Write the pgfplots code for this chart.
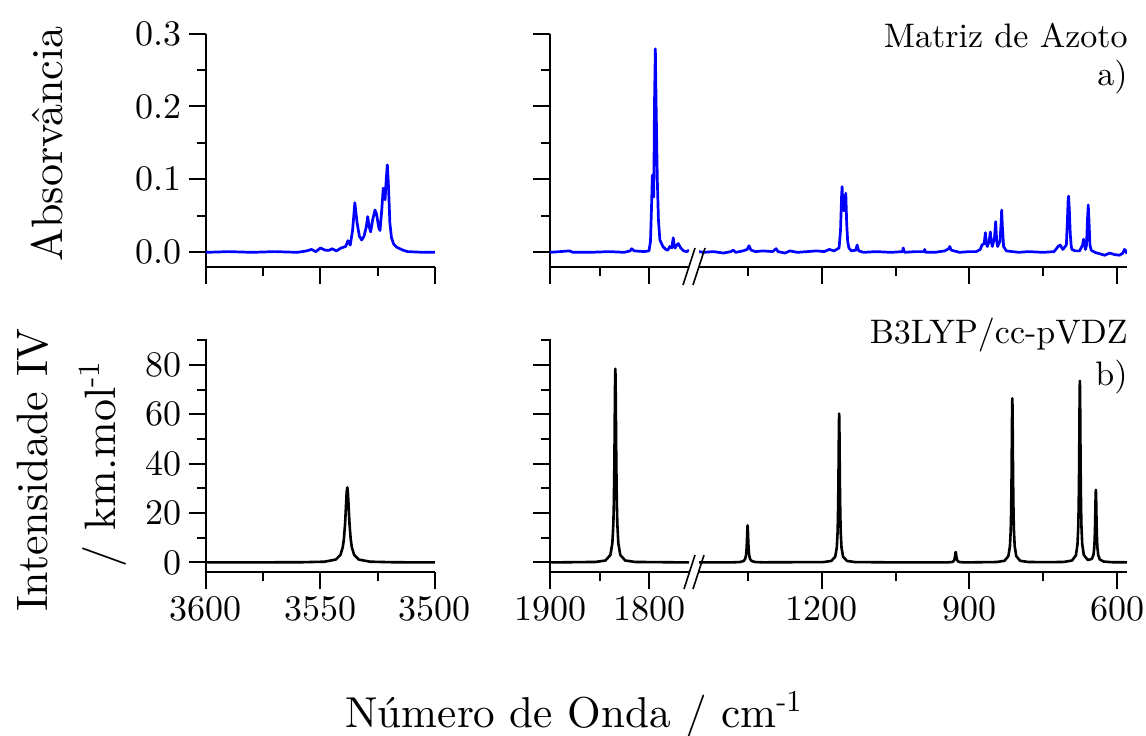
\documentclass[border=0pt]{standalone}
\usepackage{fontspec}
\setmainfont{lmroman10-regular.otf}
\usepackage{pgfplots}
\pgfplotsset{compat=1.18}

\pgfplotsset{
  spec/.style={
    scale only axis, height=116.6pt, anchor=south west,
    x dir=reverse,
    axis x line*=bottom, axis y line*=left,
    axis line style={-, line width=1pt},
    every outer x axis line/.append style={-},
    every outer y axis line/.append style={-},
    every tick/.style={black, line width=1pt},
    tick align=outside,
    major tick length=8.5pt, minor tick length=4.5pt,
    tick label style={font=\fontsize{18}{20}\selectfont},
    /pgf/number format/assume math mode=true,
    /pgf/number format/set thousands separator={},
    scaled ticks=false,
  },
  top/.style={spec, ymin=-0.0197, ymax=0.3,
    ytick={0,0.1,0.2,0.3}, minor ytick={0.05,0.15,0.25},
    xticklabels={},
    yticklabel style={/pgf/number format/.cd, fixed, fixed zerofill, precision=1}},
  bot/.style={spec, ymin=-4.0, ymax=90.5,
    ytick={0,20,40,60,80}, minor ytick={10,30,50,70,90}},
  exp/.style={blue, line width=1.35pt, line join=round},
  calc/.style={black, line width=1.3pt, line join=round},
}

\begin{document}
\begin{tikzpicture}
\path[use as bounding box] (0,0) rectangle (573pt,-367.5pt);

% ---------- a) experimental, N2 matrix ----------
\begin{axis}[top, at={(103pt,-133.35pt)}, width=114.5pt,
  xmin=3500, xmax=3600, xtick={3600,3550,3500}, minor xtick={3575,3525}]
\addplot[exp] coordinates {
(3600,0.000) (3590,0.001) (3580,0.000) (3570,0.001) (3560,0.000) (3556,0.002)
(3554,0.004) (3552,0.001) (3550,0.006) (3548,0.003) (3546,0.003) (3545,0.005)
(3543,0.002) (3541,0.006) (3539,0.008) (3538,0.016) (3537,0.010) (3536,0.030)
(3535,0.068) (3534,0.040) (3533,0.022) (3532,0.017) (3531,0.022) (3530,0.035)
(3529.4,0.049) (3528.8,0.036) (3528.1,0.028) (3527.2,0.045) (3526.2,0.058)
(3525.5,0.052) (3524.5,0.033) (3524,0.030) (3523.2,0.060) (3522.6,0.088)
(3521.8,0.072) (3521.3,0.100) (3520.8,0.120) (3520.3,0.090) (3519.7,0.040)
(3519,0.020) (3518,0.011) (3516.7,0.007) (3514,0.003) (3512,0.001)
(3505,0.000) (3500,0.000)
};
\end{axis}

\begin{axis}[top, at={(275pt,-133.35pt)}, width=69.5pt,
  xmin=1759.6, xmax=1900, xtick={1900,1800}, minor xtick={1850}, yticklabels={}]
\addplot[exp] coordinates {
(1900,0.000) (1890,0.001) (1880,0.002) (1877,0.000) (1860,0.000) (1840,0.001)
(1825,0.000) (1819,0.002) (1817.5,0.005) (1815,0.002) (1805,0.001) (1800,0.002)
(1798.5,0.015) (1797.5,0.060) (1796.6,0.106) (1795.2,0.076) (1794.5,0.200)
(1793.6,0.279) (1792.8,0.200) (1791.6,0.099) (1790.5,0.045) (1789,0.017)
(1786,0.008) (1783,0.004) (1781,0.003) (1779,0.008) (1777,0.006) (1775.5,0.020)
(1774.5,0.008) (1773.5,0.006) (1772,0.010) (1770.4,0.012) (1768,0.006)
(1765,0.002) (1762,0.001) (1759.6,0.003)
};
\end{axis}

\begin{axis}[top, at={(349.5pt,-133.35pt)}, width=214pt, axis y line=none,
  xmin=579.7, xmax=1449.7, xtick={1200,900,600}, minor xtick={1350,1050,750}]
\addplot[exp] coordinates {
(1449.7,0.001) (1440,0.000) (1420,0.001) (1400,-0.001) (1385,0.001) (1380,0.003)
(1375,0.000) (1360,0.002) (1352,0.004) (1348,0.009) (1344,0.003) (1335,0.001)
(1320,0.002) (1300,0.001) (1293,0.005) (1289,0.001) (1275,-0.001) (1265,0.002)
(1250,0.000) (1230,0.001) (1210,0.002) (1195,0.001) (1185,0.004) (1175,0.002)
(1165,0.006) (1162,0.030) (1160,0.075) (1158.8,0.090) (1157,0.060) (1155.3,0.057)
(1153,0.070) (1151.3,0.081) (1149.5,0.040) (1147.5,0.015) (1145,0.006)
(1140,0.002) (1131,0.003) (1128.3,0.010) (1125,0.002) (1115,0.000) (1090,0.001)
(1060,0.000) (1036,0.001) (1034.5,0.006) (1032,0.000) (1010,0.001) (992,0.001)
(991,0.004) (989,0.000) (970,0.000) (950,0.002) (942,0.005) (940,0.008)
(937,0.003) (920,0.000) (900,0.001) (886,0.001) (878,0.004) (874.5,0.010)
(870,0.012) (867.6,0.027) (865.5,0.012) (863.6,0.008) (860,0.015) (857.5,0.028)
(855.5,0.015) (853.5,0.008) (849,0.020) (846.7,0.042) (844.5,0.015) (842.7,0.008)
(838,0.015) (835.5,0.040) (834.5,0.058) (833,0.035) (830.5,0.008) (825,0.002)
(800,0.000) (780,0.001) (750,0.000) (728,0.001) (722,0.006) (720,0.008)
(715.4,0.010) (712,0.006) (710,0.004) (703,0.010) (701,0.040) (699.5,0.070)
(698.5,0.077) (697,0.060) (695,0.025) (693,0.008) (691.7,0.004) (685,0.002)
(676,0.002) (670,0.010) (668,0.018) (666,0.010) (664,0.004) (662,0.010)
(660,0.045) (658.5,0.065) (657,0.045) (655,0.010) (652.5,0.003) (645,0.000)
(635,-0.002) (625,-0.004) (615,-0.001) (605,-0.003) (595,-0.004) (588,-0.001)
(585,0.004) (582,0.002) (579.7,-0.002)
};
\end{axis}

% ---------- b) calculated B3LYP/cc-pVDZ ----------
\begin{axis}[bot, at={(103pt,-286.15pt)}, width=114.5pt,
  xmin=3500, xmax=3600, xtick={3600,3550,3500}, minor xtick={3575,3525}]
\addplot[calc] coordinates {
(3500,0) (3518.3,0.08) (3528.3,0.30) (3533.3,1.17) (3535.3,3.04) (3536.3,6.08)
(3536.8,9.36) (3537.3,15.2) (3537.55,19.5) (3537.8,24.3) (3538.05,28.6)
(3538.3,30.4) (3538.55,28.6) (3538.8,24.3) (3539.05,19.5) (3539.3,15.2)
(3539.8,9.36) (3540.3,6.08) (3541.3,3.04) (3543.3,1.17) (3548.3,0.30)
(3558.3,0.08) (3600,0)
};
\end{axis}

\begin{axis}[bot, at={(275pt,-286.15pt)}, width=69.5pt,
  xmin=1759.6, xmax=1900, xtick={1900,1800}, minor xtick={1850}, yticklabels={}]
\addplot[calc] coordinates {
(1759.6,0) (1814,0.20) (1824,0.78) (1829,3.02) (1831,7.85) (1832,15.7)
(1832.5,24.2) (1833,39.3) (1833.25,50.2) (1833.5,62.8) (1833.75,73.9)
(1834,78.5) (1834.25,73.9) (1834.5,62.8) (1834.75,50.2) (1835,39.3)
(1835.5,24.2) (1836,15.7) (1837,7.85) (1839,3.02) (1844,0.78) (1854,0.20)
(1900,0)
};
\end{axis}

\begin{axis}[bot, at={(349.5pt,-286.15pt)}, width=214pt, axis y line=none,
  xmin=579.7, xmax=1449.7, xtick={1200,900,600}, minor xtick={1350,1050,750}]
\addplot[calc] coordinates {
(1449.7,0.01) (1382.9,0.04) (1366.9,0.15) (1358.9,0.58) (1355.7,1.5) (1354.1,3.0)
(1353.3,4.62) (1352.5,7.5) (1352.1,9.6) (1351.7,12.0) (1351.3,14.1) (1350.9,15.0)
(1350.5,14.1) (1350.1,12.0) (1349.7,9.6) (1349.3,7.5) (1348.5,4.62) (1347.7,3.0)
(1346.1,1.5) (1342.9,0.58) (1334.9,0.15) (1318.9,0.05)
(1196.8,0.15) (1180.8,0.60) (1172.8,2.32) (1169.6,6.03) (1168.0,12.1)
(1167.2,18.6) (1166.4,30.2) (1166.0,38.6) (1165.6,48.2) (1165.2,56.7)
(1164.8,60.3) (1164.4,56.7) (1164.0,48.2) (1163.6,38.6) (1163.2,30.2)
(1162.4,18.6) (1161.6,12.1) (1160.0,6.03) (1156.8,2.32) (1148.8,0.60)
(1132.8,0.15) (1050,0.02)
(959.9,0.02) (943.9,0.05) (935.9,0.16) (932.7,0.42) (931.1,0.84) (930.3,1.29)
(929.5,2.1) (929.1,2.69) (928.7,3.36) (928.3,3.95) (927.9,4.2) (927.5,3.95)
(927.1,3.36) (926.7,2.69) (926.3,2.1) (925.5,1.29) (924.7,0.84) (923.1,0.42)
(919.9,0.16) (911.9,0.05) (895.9,0.04)
(844.8,0.17) (828.8,0.66) (820.8,2.56) (817.6,6.65) (816.0,13.3) (815.2,20.5)
(814.4,33.3) (814.0,42.6) (813.6,53.2) (813.2,62.6) (812.8,66.5) (812.4,62.6)
(812.0,53.2) (811.6,42.6) (811.2,33.3) (810.4,20.5) (809.6,13.3) (808.0,6.65)
(804.8,2.56) (796.8,0.66) (780.8,0.19) (740,0.10)
(707.5,0.21) (691.5,0.78) (683.5,2.9) (680.3,7.43) (678.7,14.8) (677.9,22.7)
(677.1,36.9) (676.7,47.1) (676.3,58.9) (675.9,69.3) (675.5,73.6) (675.1,69.3)
(674.7,58.9) (674.3,47.1) (673.9,36.9) (673.1,22.7) (672.3,14.8) (670.7,7.45)
(667.5,3.0) (659.25,1.0) (651,1.43) (647.8,3.17) (646.2,6.04) (645.4,9.2)
(644.6,14.8) (644.2,18.9) (643.8,23.6) (643.4,27.7) (643,29.4) (642.6,27.7)
(642.2,23.6) (641.8,18.9) (641.4,14.8) (640.6,9.1) (639.8,5.95) (638.2,3.0)
(635,1.2) (627,0.35) (611,0.10) (579.7,0.05)
};
\end{axis}

% axis break marks
\draw[line width=0.8pt] (341.5pt,-142.5pt) -- (347.5pt,-124pt);
\draw[line width=0.8pt] (346.5pt,-142.5pt) -- (352.5pt,-124pt);
\draw[line width=0.8pt] (342pt,-294.5pt) -- (347.5pt,-277.5pt);
\draw[line width=0.8pt] (346.5pt,-294.5pt) -- (352pt,-277.5pt);

% panel annotations
\begin{scope}[every node/.style={font=\fontsize{17}{19}\selectfont, inner sep=0pt}]
\node[anchor=base east] at (564pt,-23.85pt) {Matriz de Azoto};
\node[anchor=base east] at (564pt,-42.5pt) {a)};
\node[anchor=base east] at (564pt,-171.7pt) {B3LYP/cc-pVDZ};
\node[anchor=base east] at (564pt,-192.5pt) {b)};
\end{scope}

% axis titles
\begin{scope}[every node/.style={font=\fontsize{22}{26}\selectfont, inner sep=0pt}]
\node[rotate=90, anchor=base] at (31pt,-72pt) {Absorvância};
\node[rotate=90, anchor=base] at (23.5pt,-235pt) {Intensidade IV};
\node[rotate=90, anchor=base] at (57.5pt,-232pt) {/ km.mol\textsuperscript{-1}};
\node[anchor=base, font=\fontsize{21.6}{26}\selectfont] at (287pt,-363.5pt) {Número de Onda / cm\textsuperscript{-1}};
\end{scope}
\end{tikzpicture}
\end{document}
